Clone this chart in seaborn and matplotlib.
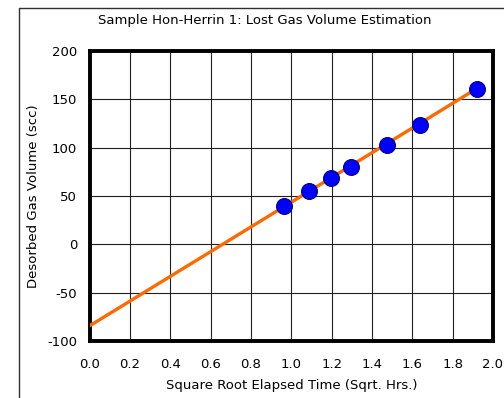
import matplotlib
matplotlib.use("Agg")
import matplotlib.pyplot as plt
import seaborn as sns
import pandas as pd
from matplotlib.lines import Line2D

sns.set_theme(style="white")
plt.rcParams['font.family'] = ['DejaVu Sans']
plt.rcParams['text.color'] = 'black'
plt.rcParams['axes.labelcolor'] = 'black'

# Data
sqrt_time = [0.964, 1.086, 1.196, 1.296, 1.476, 1.638, 1.92]
gas_volume = [39.8, 54.9, 68.6, 80.0, 102.7, 123.8, 161.0]
fit_x = [0.0, 1.92]
fit_y = [-84.0, 161.0]
x_ticks = [0.0, 0.2, 0.4, 0.6, 0.8, 1.0, 1.2, 1.4, 1.6, 1.8, 2.0]
y_ticks = [-100, -50, 0, 50, 100, 150, 200]

pts = pd.DataFrame({"x": sqrt_time, "y": gas_volume})
fit = pd.DataFrame({"x": fit_x, "y": fit_y})

fig = plt.figure(figsize=(5.04, 3.98), dpi=100)
ax = fig.add_axes([0.178, 0.1425, 0.800, 0.7300])

sns.lineplot(data=fit, x="x", y="y", ax=ax, color="#FF6A00", linewidth=2.4, zorder=3)
sns.scatterplot(data=pts, x="x", y="y", ax=ax, s=130, color="#0000FF",
                edgecolor="#000080", linewidth=0.8, zorder=4)

ax.set_xlim(0, 2.0)
ax.set_ylim(-100, 200)
ax.set_xticks(x_ticks)
ax.set_yticks(y_ticks)
ax.set_xticklabels([f"{v:.1f}" for v in x_ticks])
ax.set_yticklabels([str(v) for v in y_ticks])
ax.grid(True, color="#202020", linewidth=0.8)
ax.set_axisbelow(True)
for s in ax.spines.values():
    s.set_color("black")
    s.set_linewidth(2.8)
ax.tick_params(axis="both", labelsize=9.5, length=0, colors="black")
ax.tick_params(axis="x", pad=12)
ax.tick_params(axis="y", pad=9)

ax.set_xlabel("Square Root Elapsed Time (Sqrt. Hrs.)", fontsize=9.5, labelpad=6)
ax.set_ylabel("Desorbed Gas Volume (scc)", fontsize=9.5, labelpad=5)
fig.text(0.525, 0.948, "Sample Hon-Herrin 1: Lost Gas Volume Estimation",
         ha="center", va="center", fontsize=9.5)

# outer chart border (left & top)
fig.add_artist(Line2D([19/504, 19/504], [0, 1 - 8/398], transform=fig.transFigure,
                      color="#303030", linewidth=1.0))
fig.add_artist(Line2D([19/504, 1], [1 - 8/398, 1 - 8/398], transform=fig.transFigure,
                      color="#303030", linewidth=1.0))

fig.savefig("out.png", dpi=100)
